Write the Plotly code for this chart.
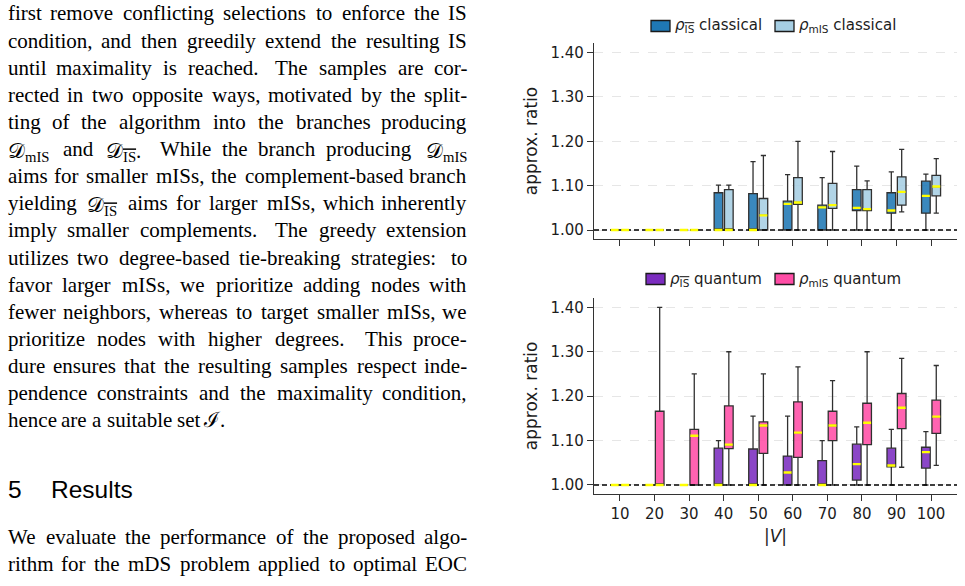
import re
import plotly.graph_objects as go

W, H = 965, 586

# ---------------- data ----------------
sizes = ["10", "20", "30", "40", "50", "60", "70", "80", "90", "100"]

# classical, rho_{IS-bar}
c_is_lo = [1.000, 1.000, 1.000, 1.000, 1.000, 1.000, 1.000, 1.000, 1.000, 1.000]
c_is_q1 = [1.000, 1.000, 1.000, 1.000, 1.000, 1.000, 1.000, 1.044, 1.038, 1.038]
c_is_md = [1.000, 1.000, 1.000, 1.000, 1.000, 1.059, 1.051, 1.050, 1.044, 1.077]
c_is_q3 = [1.000, 1.000, 1.000, 1.084, 1.082, 1.065, 1.056, 1.091, 1.084, 1.110]
c_is_hi = [1.000, 1.000, 1.000, 1.101, 1.154, 1.125, 1.118, 1.144, 1.131, 1.126]

# classical, rho_mIS
c_m_lo = [1.000, 1.000, 1.000, 1.000, 1.000, 1.000, 1.000, 1.000, 1.041, 1.038]
c_m_q1 = [1.000, 1.000, 1.000, 1.000, 1.000, 1.058, 1.049, 1.044, 1.056, 1.077]
c_m_md = [1.000, 1.000, 1.000, 1.000, 1.033, 1.062, 1.056, 1.047, 1.086, 1.098]
c_m_q3 = [1.000, 1.000, 1.000, 1.091, 1.071, 1.118, 1.105, 1.091, 1.120, 1.123]
c_m_hi = [1.000, 1.000, 1.000, 1.101, 1.168, 1.200, 1.177, 1.111, 1.182, 1.161]

# quantum, rho_{IS-bar}
q_is_lo = [1.000, 1.000, 1.000, 1.000, 1.000, 1.000, 1.000, 1.000, 1.000, 1.000]
q_is_q1 = [1.000, 1.000, 1.000, 1.000, 1.000, 1.000, 1.000, 1.011, 1.041, 1.038]
q_is_md = [1.000, 1.000, 1.000, 1.000, 1.000, 1.028, 1.000, 1.047, 1.044, 1.074]
q_is_q3 = [1.000, 1.000, 1.000, 1.083, 1.081, 1.065, 1.055, 1.092, 1.083, 1.085]
q_is_hi = [1.000, 1.000, 1.000, 1.100, 1.155, 1.155, 1.100, 1.131, 1.125, 1.120]

# quantum, rho_mIS
q_m_lo = [1.000, 1.000, 1.000, 1.000, 1.000, 1.000, 1.000, 1.000, 1.040, 1.044]
q_m_q1 = [1.000, 1.000, 1.000, 1.082, 1.071, 1.062, 1.100, 1.091, 1.127, 1.116]
q_m_md = [1.000, 1.000, 1.111, 1.091, 1.134, 1.118, 1.134, 1.140, 1.174, 1.154]
q_m_q3 = [1.000, 1.166, 1.125, 1.178, 1.142, 1.187, 1.166, 1.184, 1.206, 1.191]
q_m_hi = [1.000, 1.400, 1.250, 1.300, 1.250, 1.266, 1.235, 1.300, 1.285, 1.269]

y_ticks = [1.0, 1.1, 1.2, 1.3, 1.4]
ref_ratio = 1.0

OVL = '<span style="text-decoration:overline">IS</span>'
legend_top = ["<i>ρ</i><sub>" + OVL + "</sub> classical", "<i>ρ</i><sub>mIS</sub> classical"]
legend_bot = ["<i>ρ</i><sub>" + OVL + "</sub> quantum", "<i>ρ</i><sub>mIS</sub> quantum"]

# paper text (left column)
para1 = [
    "first remove conflicting selections to enforce the IS",
    "condition, and then greedily extend the resulting IS",
    "until maximality is reached.  The samples are cor-",
    "rected in two opposite ways, motivated by the split-",
    "ting of the algorithm into the branches producing",
    "[Dm] and [Di.]  While the branch producing [Dm]",
    "aims for smaller mISs, the complement-based branch",
    "yielding [Di] aims for larger mISs, which inherently",
    "imply smaller complements.  The greedy extension",
    "utilizes two degree-based tie-breaking strategies:  to",
    "favor larger mISs, we prioritize adding nodes with",
    "fewer neighbors, whereas to target smaller mISs, we",
    "prioritize nodes with higher degrees.  This proce-",
    "dure ensures that the resulting samples respect inde-",
    "pendence constraints and the maximality condition,",
    "hence are a suitable set ℐ.",
]
heading_num = "5"
heading_txt = "Results"
para2 = [
    "We evaluate the performance of the proposed algo-",
    "rithm for the mDS problem applied to optimal EOC",
]

# ---------------- styling helpers ----------------
def px(x):
    return x / W

def py(y):
    return 1 - y / H

COL_IS_C = "#1f78b4"
COL_M_C = "#a6cee3"
COL_IS_Q = "#7b2cbf"
COL_M_Q = "#ff4da6"

def rgba(hexc, a):
    h = hexc.lstrip("#")
    r, g, b = int(h[0:2], 16), int(h[2:4], 16), int(h[4:6], 16)
    return f"rgba({r},{g},{b},{a})"

fig = go.Figure()

XR = [-0.75, len(sizes) - 0.25]
BW = 0.25
OFF = 0.15
series = [
    ("x", "y", -OFF, COL_IS_C, c_is_lo, c_is_q1, c_is_md, c_is_q3, c_is_hi),
    ("x", "y", +OFF, COL_M_C, c_m_lo, c_m_q1, c_m_md, c_m_q3, c_m_hi),
    ("x2", "y2", -OFF, COL_IS_Q, q_is_lo, q_is_q1, q_is_md, q_is_q3, q_is_hi),
    ("x2", "y2", +OFF, COL_M_Q, q_m_lo, q_m_q1, q_m_md, q_m_q3, q_m_hi),
]

for xa, ya, off, col, lo, q1, md, q3, hi in series:
    pos = [i + off for i in range(len(sizes))]
    fig.add_trace(go.Box(
        x=pos, q1=q1, median=md, q3=q3, lowerfence=lo, upperfence=hi,
        width=BW, whiskerwidth=0.6, boxpoints=False,
        fillcolor=rgba(col, 0.88), line=dict(color="#303030", width=1.3),
        xaxis=xa, yaxis=ya, showlegend=False, hoverinfo="skip",
    ))

# dashed reference line at ratio 1 (below the yellow medians)
for xa, ya in (("x", "y"), ("x2", "y2")):
    fig.add_trace(go.Scatter(
        x=XR, y=[ref_ratio, ref_ratio], mode="lines",
        line=dict(color="black", width=1.3, dash="5px,3px"),
        xaxis=xa, yaxis=ya, showlegend=False, hoverinfo="skip", cliponaxis=False,
    ))

for xa, ya, off, col, lo, q1, md, q3, hi in series:
    mx, my = [], []
    for i, m in enumerate(md):
        c = i + off
        mx += [c - BW / 2 + 0.01, c + BW / 2 - 0.01, None]
        my += [m, m, None]
    fig.add_trace(go.Scatter(
        x=mx, y=my, mode="lines", line=dict(color="#ffff00", width=2.4),
        xaxis=xa, yaxis=ya, showlegend=False, hoverinfo="skip",
    ))

CH_FONT = "DejaVu Sans"
TXT = "#1c1c1c"
XD = [px(594), px(957)]
common_x = dict(
    range=XR, tickmode="array",
    tickvals=list(range(len(sizes))), ticktext=sizes,
    showline=True, linecolor="#333333", linewidth=1.4,
    ticks="outside", ticklen=6, tickwidth=1.3, tickcolor="#333333",
    showgrid=False, zeroline=False,
    tickfont=dict(family=CH_FONT, size=15, color=TXT),
)
common_y = dict(
    range=[0.9804, 1.421], tickmode="array", tickvals=y_ticks,
    tickformat=".2f",
    showline=True, linecolor="#333333", linewidth=1.4,
    ticks="outside", ticklen=6, tickwidth=1.3, tickcolor="#333333",
    showgrid=True, gridcolor="#e6e6e6", griddash="dash", gridwidth=1,
    zeroline=False,
    tickfont=dict(family=CH_FONT, size=15, color=TXT),
    title=dict(text="approx. ratio", font=dict(family=CH_FONT, size=17, color=TXT), standoff=8),
)

fig.update_layout(
    width=W, height=H, margin=dict(l=0, r=0, t=0, b=0),
    paper_bgcolor="white", plot_bgcolor="white",
    showlegend=False, boxmode="overlay",
    xaxis=dict(domain=XD, anchor="y", showticklabels=False, **common_x),
    yaxis=dict(domain=[py(238.7), py(43.3)], anchor="x", **common_y),
    xaxis2=dict(domain=XD, anchor="y2",
                title=dict(text="|<i>V</i>|", font=dict(family=CH_FONT, size=17, color=TXT), standoff=8),
                **common_x),
    yaxis2=dict(domain=[py(493.7), py(298)], anchor="x2", **common_y),
)

# manual legends
def legend(items, cols, patch_x, text_x, yc):
    for lab, col, x0, tx in zip(items, cols, patch_x, text_x):
        fig.add_shape(type="rect", xref="paper", yref="paper",
                      x0=px(x0), x1=px(x0 + 19), y0=py(yc + 5.5), y1=py(yc - 5.5),
                      fillcolor=col, line=dict(color="#1a1a1a", width=1.3))
        fig.add_annotation(text=lab, xref="paper", yref="paper", x=px(tx), y=py(yc),
                           xanchor="left", yanchor="middle", showarrow=False, borderpad=0,
                           font=dict(family=CH_FONT, size=15, color=TXT))

legend(legend_top, [COL_IS_C, COL_M_C], [651, 775], [674, 798], 26)
legend(legend_bot, [COL_IS_Q, COL_M_Q], [646, 775], [669, 798], 279)

# ---------------- left column text ----------------
TIMES = {
    'a': 444, 'b': 500, 'c': 444, 'd': 500, 'e': 444, 'f': 333, 'g': 500, 'h': 500, 'i': 278,
    'j': 278, 'k': 500, 'l': 278, 'm': 778, 'n': 500, 'o': 500, 'p': 500, 'q': 500, 'r': 333,
    's': 389, 't': 278, 'u': 500, 'v': 500, 'w': 722, 'x': 500, 'y': 500, 'z': 444,
    'A': 722, 'B': 667, 'C': 667, 'D': 722, 'E': 611, 'F': 556, 'G': 722, 'H': 722, 'I': 333,
    'J': 389, 'K': 722, 'L': 611, 'M': 889, 'N': 722, 'O': 722, 'P': 556, 'Q': 722, 'R': 667,
    'S': 556, 'T': 611, 'U': 722, 'V': 722, 'W': 944, 'X': 722, 'Y': 722, 'Z': 611,
    ',': 250, '.': 250, '-': 333, ':': 278, ';': 278, 'ℐ': 550,
}
SPECIAL = {
    "[Dm]": ("𝒟<sub>mIS</sub>", 2.15),
    "[Di.]": ("𝒟<sub>" + OVL + "</sub>.", 1.8),
    "[Di]": ("𝒟<sub>" + OVL + "</sub>", 1.7),
}
FS = 21.0
FAM = "Liberation Serif"
LEFT, RIGHT = 7.0, 468.0

def word_w(w):
    if w in SPECIAL:
        return SPECIAL[w][1] * FS
    return sum(TIMES.get(ch, 500) for ch in w) / 1000 * FS

def put_line(line, baseline, justify=True):
    parts = re.split(r"( +)", line)
    words = parts[0::2]
    gaps = [1.0 if len(g) == 1 else 1.6 for g in parts[1::2]]
    widths = [word_w(w) for w in words]
    if justify and gaps:
        unit = (RIGHT - LEFT - sum(widths)) / sum(gaps)
    else:
        unit = 0.25 * FS
    x = LEFT
    n = len(words)
    for k, (w, wd) in enumerate(zip(words, widths)):
        html = SPECIAL[w][0] if w in SPECIAL else w
        yc = baseline - 0.3375 * FS + (2.5 if "<sub>" in html else 0)
        if k == 0:
            xa, xx = "left", x
        elif k == n - 1 and justify:
            xa, xx = "right", RIGHT
        else:
            xa, xx = "center", x + wd / 2
        fig.add_annotation(text=html, xref="paper", yref="paper", x=px(xx), y=py(yc),
                           xanchor=xa, yanchor="middle", showarrow=False, borderpad=0,
                           font=dict(family=FAM, size=FS, color="black"))
        if k < len(gaps):
            x += wd + gaps[k] * unit

LS = 27.13
for i, line in enumerate(para1):
    put_line(line, 20.5 + LS * i, justify=(i < len(para1) - 1))

HS = 24.5
for txt, hx in ((heading_num, 7), (heading_txt, 50)):
    fig.add_annotation(text=txt, xref="paper", yref="paper", x=px(hx), y=py(497.5 - 0.3465 * HS),
                       xanchor="left", yanchor="middle", showarrow=False, borderpad=0,
                       font=dict(family="Liberation Sans", size=HS, color="black"))

for i, line in enumerate(para2):
    put_line(line, 544 + LS * i, justify=True)

fig.write_html("out.html")
